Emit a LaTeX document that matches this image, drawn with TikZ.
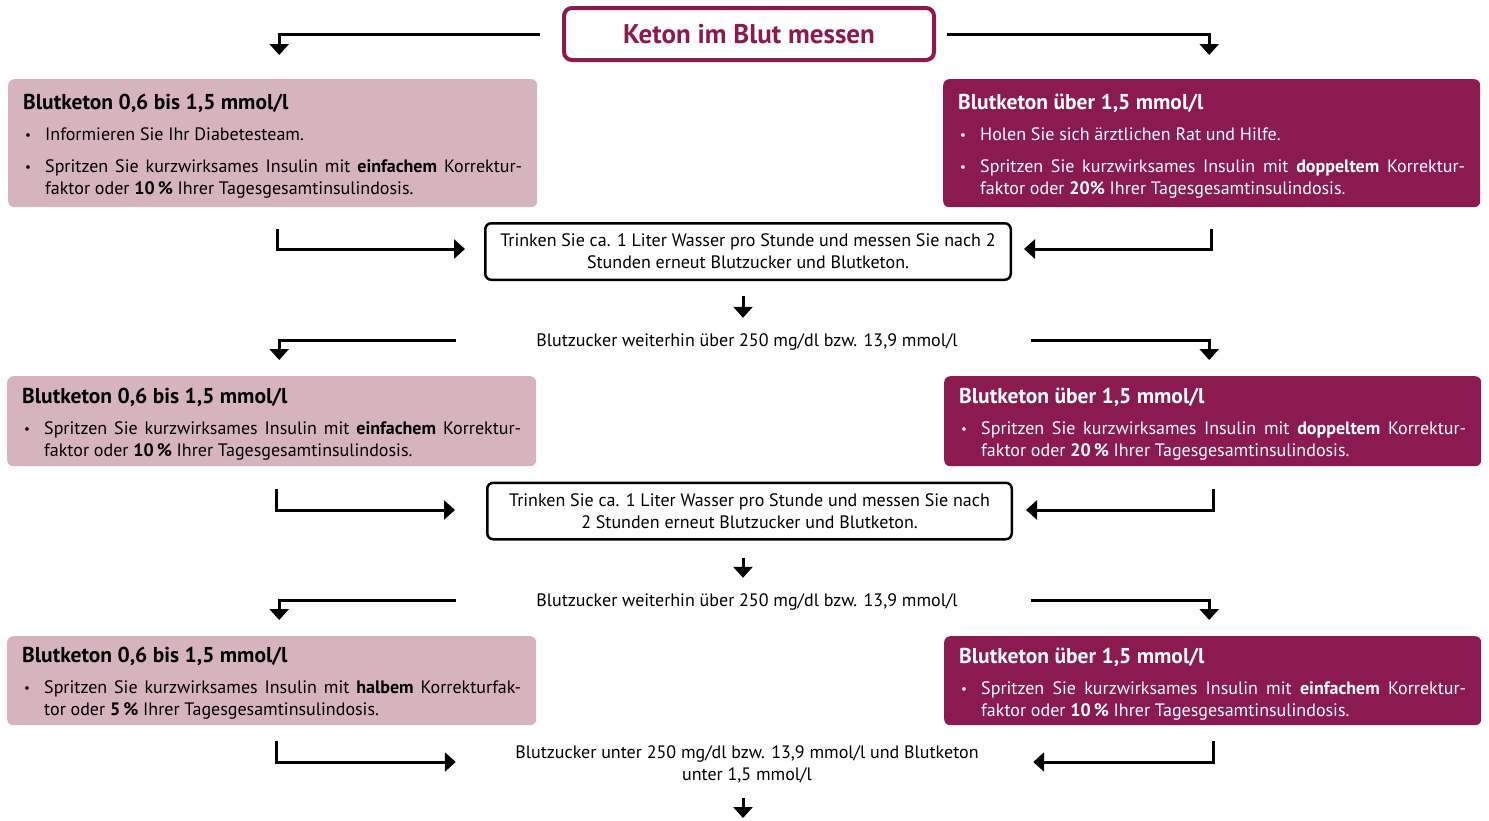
\documentclass[tikz,border=0pt]{standalone}
\usepackage{fontspec}
\setmainfont{PT Sans}
\usetikzlibrary{arrows.meta}
\definecolor{dkp}{HTML}{8B1A50}
\definecolor{ltp}{HTML}{D6B4BD}
\newcommand{\hdr}[1]{{\fontsize{21.5}{22}\selectfont\bfseries #1\par}\vspace{9pt}}
\newcommand{\bitem}[1]{\hangindent=22pt\hangafter=1\noindent\makebox[22pt][l]{\hspace{2pt}{\fontsize{13}{13}\selectfont\raisebox{1pt}{•}}}#1\par}
\newcommand{\bgap}{\vspace{10pt}}
\newcommand{\bend}{\vspace{-6pt}}
\tikzset{
  body/.style={font=\fontsize{18}{22}\selectfont},
  lbox/.style={body, fill=ltp, text=black, rounded corners=6pt, anchor=north west,
     inner xsep=15pt, inner ysep=0pt, align=justify},
  rbox/.style={body, fill=dkp, text=white, rounded corners=6pt, anchor=north west,
     inner xsep=15pt, inner ysep=0pt, align=justify},
  titlebox/.style={draw=dkp, line width=4pt, rounded corners=8pt, minimum width=370pt,
     minimum height=52pt, text=dkp, font=\fontsize{27}{30}\selectfont\bfseries},
  drinkbox/.style={body, draw=black, line width=2.5pt, rounded corners=6pt,
     minimum height=56.5pt, align=center, inner sep=0pt},
  plain/.style={body, inner sep=0pt, align=center},
  conn/.style={line width=3pt, -{Triangle[width=19pt,length=11pt]}}
}
\begin{document}
\begin{tikzpicture}[x=1pt,y=-1pt]
\useasboundingbox (0,0) rectangle (1489,820);

% title
\node[titlebox] (title) at (749,34) {Keton im Blut messen};

% row 1
\node[lbox, minimum width=529pt, minimum height=128pt, text width=499pt] (L1) at (8,79)
 {\hdr{Blutketon 0,6 bis 1,5 mmol/l}\bitem{Informieren Sie Ihr Diabetesteam.}\bgap
  \bitem{Spritzen Sie kurzwirksames Insulin mit \textbf{einfachem} Korrektur-\linebreak faktor oder \textbf{10\,\%} Ihrer Tagesgesamtinsulindosis.}\bend};
\node[rbox, minimum width=537pt, minimum height=128pt, text width=507pt] (R1) at (943,79)
 {\hdr{Blutketon über 1,5 mmol/l}\bitem{Holen Sie sich ärztlichen Rat und Hilfe.}\bgap
  \bitem{Spritzen Sie kurzwirksames Insulin mit \textbf{doppeltem} Korrektur-\linebreak faktor oder \textbf{20\%} Ihrer Tagesgesamtinsulindosis.}\bend};

\node[drinkbox, minimum width=525.5pt] (D1) at (748,251.5)
 {Trinken Sie ca. 1 Liter Wasser pro Stunde und messen Sie nach 2\\Stunden erneut Blutzucker und Blutketon.};

\node[plain, minimum width=420pt, minimum height=20pt] (T1) at (747,342)
 {Blutzucker weiterhin über 250 mg/dl bzw. 13,9 mmol/l};

% row 2
\node[lbox, minimum width=529pt, minimum height=90pt, text width=499pt] (L2) at (7,376)
 {\hdr{Blutketon 0,6 bis 1,5 mmol/l}
  \bitem{Spritzen Sie kurzwirksames Insulin mit \textbf{einfachem} Korrektur-\linebreak faktor oder \textbf{10\,\%} Ihrer Tagesgesamtinsulindosis.}\bend};
\node[rbox, minimum width=537pt, minimum height=90pt, text width=507pt] (R2) at (944,376)
 {\hdr{Blutketon über 1,5 mmol/l}
  \bitem{Spritzen Sie kurzwirksames Insulin mit \textbf{doppeltem} Korrektur-\linebreak faktor oder \textbf{20\,\%} Ihrer Tagesgesamtinsulindosis.}\bend};

\node[drinkbox, minimum width=524.5pt] (D2) at (749.5,511)
 {Trinken Sie ca. 1 Liter Wasser pro Stunde und messen Sie nach\\2 Stunden erneut Blutzucker und Blutketon.};

\node[plain, minimum width=420pt, minimum height=20pt] (T2) at (747,602)
 {Blutzucker weiterhin über 250 mg/dl bzw. 13,9 mmol/l};

% row 3
\node[lbox, minimum width=529pt, minimum height=89pt, text width=499pt] (L3) at (7,636)
 {\hdr{Blutketon 0,6 bis 1,5 mmol/l}
  \bitem{Spritzen Sie kurzwirksames Insulin mit \textbf{halbem} Korrekturfak-\linebreak tor oder \textbf{5\,\%} Ihrer Tagesgesamtinsulindosis.}\bend};
\node[rbox, minimum width=537pt, minimum height=89pt, text width=507pt] (R3) at (944,636)
 {\hdr{Blutketon über 1,5 mmol/l}
  \bitem{Spritzen Sie kurzwirksames Insulin mit \textbf{einfachem} Korrektur-\linebreak faktor oder \textbf{10\,\%} Ihrer Tagesgesamtinsulindosis.}\bend};

\node[plain, minimum width=464pt, minimum height=46pt] (T3) at (747,764)
 {Blutzucker unter 250 mg/dl bzw. 13,9 mmol/l und Blutketon\\unter 1,5 mmol/l};
\coordinate (fin) at (743,818);

% connectors
\draw[conn, shorten <=22pt, shorten >=24pt] (title.west) -| ([xshift=6.5pt]L1.north);
\draw[conn, shorten <=11pt, shorten >=24pt] (title.east) -| ([xshift=-2.5pt]R1.north);
\draw[conn, shorten <=22pt, shorten >=19pt] ([xshift=4.5pt]L1.south) |- ([yshift=2.5pt]D1.west);
\draw[conn, shorten <=22pt, shorten >=12pt] ([xshift=-0.5pt]R1.south) |- ([yshift=2.5pt]D1.east);
\draw[conn, shorten <=15pt, shorten >=14pt] ([xshift=-5pt]D1.south) -- ([xshift=-5pt]D1.south |- T1.north);

\draw[conn, shorten <=80pt, shorten >=16pt] ([yshift=2pt]T1.west) -| ([xshift=7.5pt]L2.north);
\draw[conn, shorten <=73pt, shorten >=16pt] ([yshift=2pt]T1.east) -| ([xshift=-3.5pt]R2.north);
\draw[conn, shorten <=23pt, shorten >=31pt] ([xshift=4.5pt]L2.south) |- ([yshift=1pt]D2.west);
\draw[conn, shorten <=23pt, shorten >=13pt] ([xshift=0.5pt]R2.south) |- ([yshift=1pt]D2.east);
\draw[conn, shorten <=17pt, shorten >=14pt] ([xshift=-6.5pt]D2.south) -- ([xshift=-6.5pt]D2.south |- T2.north);

\draw[conn, shorten <=80pt, shorten >=16pt] ([yshift=2pt]T2.west) -| ([xshift=7.5pt]L3.north);
\draw[conn, shorten <=73pt, shorten >=16pt] ([yshift=2pt]T2.east) -| ([xshift=-3.5pt]R3.north);
\draw[conn, shorten <=16pt, shorten >=59pt] ([xshift=4.5pt]L3.south) |- ([yshift=2pt]T3.west);
\draw[conn, shorten <=16pt, shorten >=54pt] ([xshift=0.5pt]R3.south) |- ([yshift=2pt]T3.east);
\draw[conn, shorten <=11pt] (T3.south -| fin) -- (fin);
\end{tikzpicture}
\end{document}
